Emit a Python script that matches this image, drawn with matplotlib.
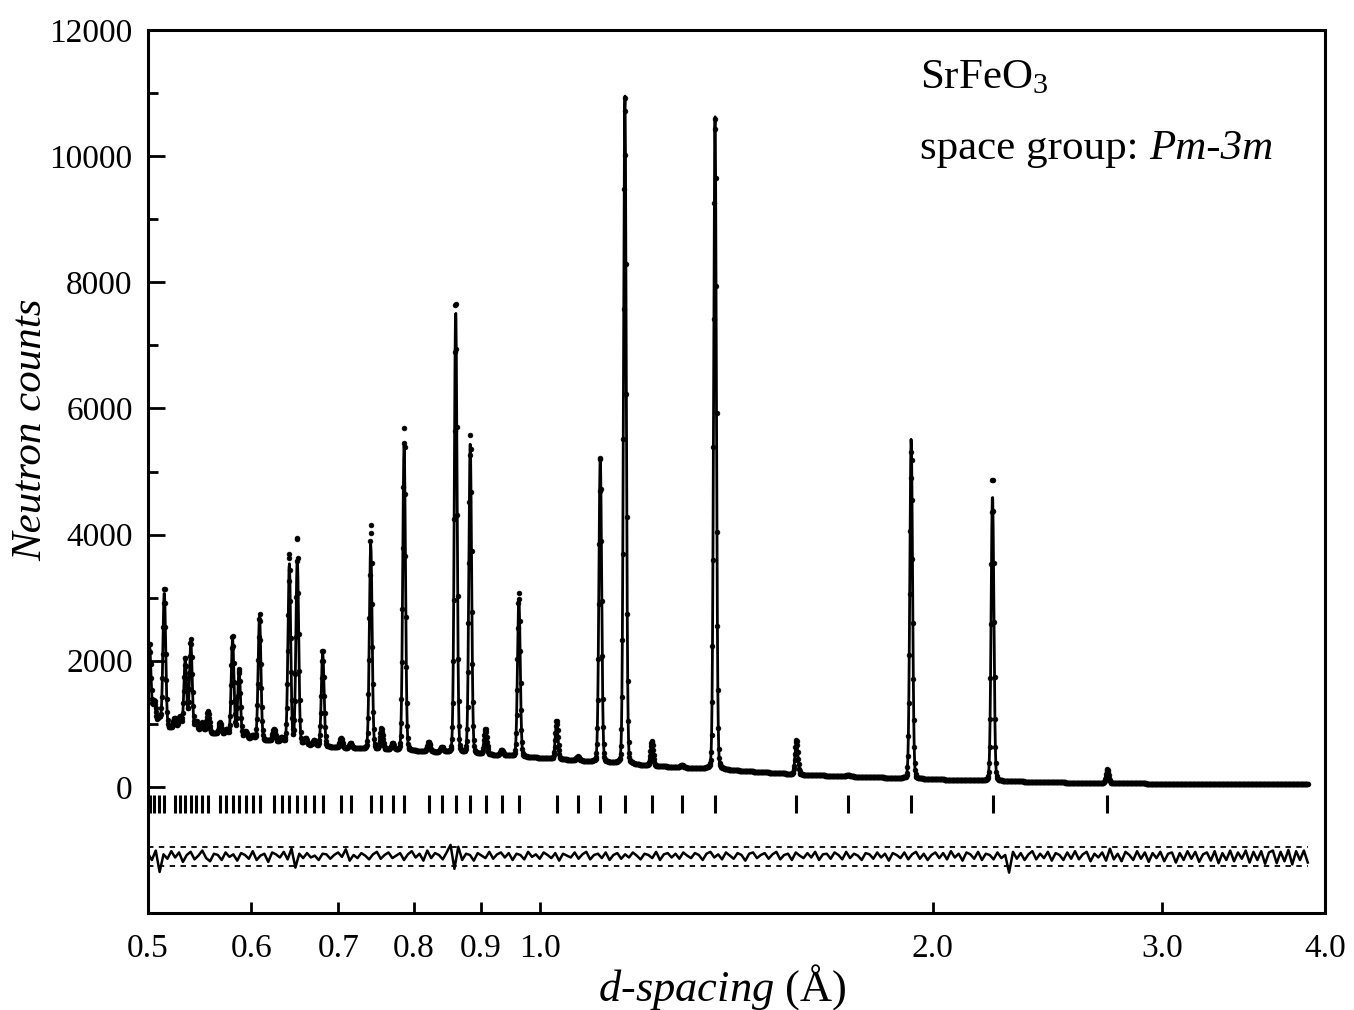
import matplotlib
matplotlib.use('Agg')
import numpy as np
import matplotlib.pyplot as plt
from matplotlib.ticker import FixedLocator, NullLocator, NullFormatter

plt.rcParams['font.family'] = ['Liberation Serif', 'DejaVu Serif']
plt.rcParams['mathtext.fontset'] = 'custom'
plt.rcParams['mathtext.rm'] = 'Liberation Serif'
plt.rcParams['mathtext.it'] = 'Liberation Serif:italic'

# d-range of the measured pattern (Angstrom)
d_min, d_max = 0.5, 3.88
n_points = 2600

# reflections: d-spacing, calculated height and observed height above background
peak_d = [0.5014, 0.5057, 0.5101, 0.5146, 0.5241, 0.5290, 0.5340, 0.5393, 0.5446,
          0.5501, 0.5559, 0.5678, 0.5741, 0.5806, 0.5873, 0.5942, 0.6014, 0.6089,
          0.6247, 0.6331, 0.6418, 0.6509, 0.6604, 0.6704, 0.6808, 0.7031, 0.7151,
          0.7411, 0.7553, 0.7702, 0.7861, 0.8210, 0.8404, 0.8611, 0.8835, 0.9077,
          0.9340, 0.9628, 1.0292, 1.0681, 1.1117, 1.1611, 1.2178, 1.2837, 1.3615,
          1.5722, 1.7222, 1.9255, 2.2230, 2.7230]
calc_height = [1100, 300, 150, 2150, 150, 200, 1100, 1380, 150,
               150, 330, 180, 100, 1530, 1050, 100, 60, 1950,
               200, 80, 2850, 2950, 100, 80, 1480, 150, 80,
               3250, 330, 100, 4850, 150, 80, 7050, 4900, 400,
               90, 2500, 590, 60, 4850, 10650, 380, 40, 10420,
               530, 25, 5400, 4550, 220]
obs_height = [1150, 320, 150, 2230, 170, 200, 1150, 1450, 150,
              150, 340, 190, 100, 1600, 1080, 100, 60, 2000,
              200, 80, 3000, 3300, 100, 80, 1530, 150, 80,
              3550, 330, 100, 5120, 150, 80, 7200, 5050, 400,
              90, 2600, 610, 60, 4870, 10620, 390, 40, 10380,
              550, 25, 5200, 4830, 220]

# background level read along the pattern
bg_d = [0.50, 0.51, 0.55, 0.60, 0.65, 0.70, 0.80, 0.90, 1.00, 1.10, 1.20,
        1.36, 1.60, 2.00, 2.50, 3.00, 3.88]
bg_counts = [1150, 950, 870, 760, 680, 620, 570, 520, 460, 400, 340,
             280, 190, 120, 70, 50, 40]

# reflection marker positions
tick_d = [2.723, 2.223, 1.9255, 1.7222, 1.5722, 1.3615, 1.2837, 1.2178, 1.1611,
          1.1117, 1.0681, 1.0292, 0.9628, 0.9340, 0.9077, 0.8835, 0.8611, 0.8404,
          0.8210, 0.7861, 0.7702, 0.7553, 0.7411, 0.7151, 0.7031, 0.6808, 0.6704,
          0.6604, 0.6509, 0.6418, 0.6331, 0.6247, 0.6089, 0.6014, 0.5942, 0.5873,
          0.5806, 0.5741, 0.5678, 0.5559, 0.5501, 0.5446, 0.5393, 0.5340, 0.5290,
          0.5241, 0.5146, 0.5101, 0.5057, 0.5014]

diff_counts = [
    40, -60, 90, -250, 30, -40, 80, -20, 60, -90, 20, 70, -50, 10, 90, -30, -80, 40, 20, -60,
    60, -10, 30, -70, 50, 20, -40, 80, -60, 10, 40, -90, 60, 30, -20, 70, -50, 120, -180, 40,
    -30, 50, -20, 10, -60, 40, 30, -40, 20, 60, -10, 110, -70, 20, -30, 50, 10, -50, 30, 70,
    -40, 20, 60, -30, 10, 50, -60, 30, 80, -20, 40, -70, 90, -30, 50, 20, -50, 60, 180, -200,
    150, -60, 40, 20, -70, 50, 10, -30, 70, -40, 30, 60, -20, 50, -60, 40, 20, -50, 70, -10,
    30, -40, 60, 20, -30, 50, -70, 40, 10, -20, 60, -40, 30, 70, -50, 20, 40, -30, 60, -60,
    20, 50, -40, 30, -20, 60, 10, -50, 40, 20, -30, 70, -60, 30, 50, -20, 40, -40, 60, 10,
    -30, 50, 20, -60, 40, 70, -20, 30, -50, 60, 10, -40, 50, 20, -70, 40, 60, -30, 20, 50,
    -40, 30, 70, -50, 20, 40, -60, 60, 10, -30, 50, -20, 70, -60, 30, 40, -40, 60, 20, -50,
    70, -30, 40, 10, -60, 50, 30, -40, 60, -20, 40, -70, 50, 20, -30, 60, -50, 30, 70, -40,
    40, -60, 20, 60, -30, 50, -50, 80, -20, 40, -70, 60, 30, -40, 70, -60, 40, 20, -50, 60,
    -30, 20, -260, 70, -40, 50, -60, 30, 80, -50, 40, -30, 70, -70, 50, 20, -60, 60, -40, 80,
    -50, 30, 70, -80, 40, -20, 60, -70, 120, -50, 40, -80, 70, 20, -60, 80, -40, 60, -90, 50,
    -30, 70, -80, 40, 60, -100, 50, -60, 80, -40, 70, -90, 30, 60, -70, 80, -110, 50, -60, 90,
    -80, 60, -40, 90, -100, 70, -60, 80, -120, 60, 90, -110, 70, -80, 100, -130, 80, -60, 90, -100,
]
diff_offset = -1100
diff_band = [-950, -1250]
tick_level = -270

x_ticks = [0.5, 0.6, 0.7, 0.8, 0.9, 1.0, 2.0, 3.0, 4.0]

# profile: pseudo-Voigt peaks in ln(d) on a background
d = np.geomspace(d_min, d_max, n_points)
u = np.log(d[:, None] / np.array(peak_d)[None, :])
sig, gam, eta = 0.0024, 0.003, 0.06
shape = (1 - eta) * np.exp(-0.5 * (u / sig) ** 2) + eta / (1 + (u / gam) ** 2)
bg = np.interp(np.log(d), np.log(bg_d), bg_counts)
calc = bg + shape @ np.array(calc_height)
obs = bg + shape @ np.array(obs_height)

fig = plt.figure(figsize=(13.54, 10.10), dpi=100)
ax = fig.add_axes([148 / 1354, 1 - 913 / 1010, 1177 / 1354, 883 / 1010])

ax.plot(d, obs, 'o', ms=3.4, color='k', mec='k', mew=0.5)
ax.plot(d, calc, '-', lw=2.0, color='k')

ax.plot(tick_d, np.full(len(tick_d), tick_level), '|', ms=13, mew=2.2, color='k')

diff_d = np.geomspace(d_min, d_max, len(diff_counts))
ax.plot(diff_d, diff_offset + np.array(diff_counts), '-', lw=1.8, color='k')
for yb in diff_band:
    ax.plot([d_min, d_max], [yb, yb], ls=(0, (3, 3)), lw=1.3, color='k')

ax.set_xscale('log')
ax.set_xlim(0.5, 4.0)
ax.set_ylim(-2000, 12000)
ax.xaxis.set_major_locator(FixedLocator(x_ticks))
ax.set_xticklabels(['%.1f' % v for v in x_ticks])
ax.xaxis.set_minor_locator(NullLocator())
ax.xaxis.set_minor_formatter(NullFormatter())
ax.set_yticks(range(0, 12001, 2000))
ax.set_yticks(range(1000, 12000, 2000), minor=True)

ax.tick_params(axis='both', which='both', direction='in', labelsize=24,
               top=False, right=False, width=2)
ax.tick_params(axis='y', which='major', length=12, pad=11)
ax.tick_params(axis='y', which='minor', length=7)
ax.tick_params(axis='x', which='major', length=8, pad=15)
for sp in ax.spines.values():
    sp.set_linewidth(2.2)

ax.set_ylabel('Neutron counts', fontsize=31, fontstyle='italic')
ax.yaxis.set_label_coords(-0.083, 0.547)
ax.set_xlabel(r'$\mathit{d}$-$\mathit{spacing}$ (Å)', fontsize=32)
ax.xaxis.set_label_coords(0.488, -0.055)

ax.text(0.656, 0.934, r'SrFeO$_3$', transform=ax.transAxes, fontsize=31,
        ha='left', va='baseline')
t1 = ax.text(0.656, 0.844, 'space group: ', transform=ax.transAxes,
             fontsize=31, ha='left', va='bottom')
ax.annotate('Pm-3m', xy=(1, 0), xycoords=t1, fontsize=31, fontstyle='italic',
            ha='left', va='bottom')

fig.savefig('out.png', dpi=100)
